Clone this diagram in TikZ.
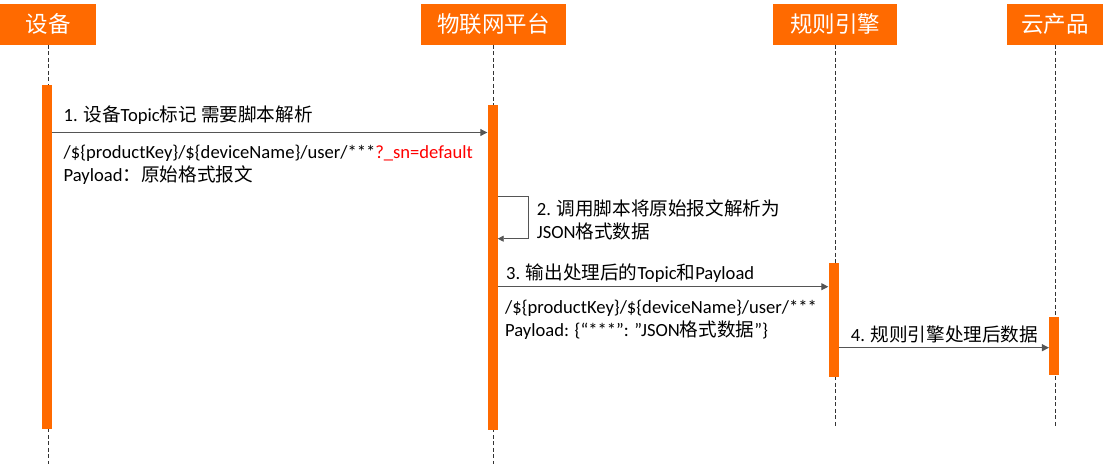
\documentclass[tikz,border=0pt]{standalone}
\usepackage{fontspec}
\setmainfont{Carlito}
\newfontfamily\cjk[Scale=1.0]{Noto Sans CJK SC}
\newcommand{\zh}[1]{{\cjk #1}}
\usetikzlibrary{arrows.meta}
\definecolor{aliorange}{RGB}{255,106,0}
\definecolor{msggray}{RGB}{85,85,85}
\definecolor{lifegray}{RGB}{51,51,51}

\begin{document}
\begin{tikzpicture}[x=1pt, y=-1pt,
        head/.style={fill=aliorange, text=white, minimum height=40.5pt, inner sep=0pt,
            font=\fontsize{22.5}{24}\selectfont},
        bar/.style={fill=aliorange, minimum width=10pt, inner sep=0pt, anchor=north},
        life/.style={draw=lifegray, line width=0.9pt, dash pattern=on 4pt off 2.5pt},
        msg/.style={draw=msggray, line width=1pt, -{Triangle[length=7pt,width=7pt]}},
        selfmsg/.style={draw=msggray, line width=0.8pt, -{Triangle[length=6pt,width=6pt]}},
        lbl/.style={anchor=west, inner sep=0pt, align=left,
            font=\fontsize{18.6}{23.3}\selectfont}
    ]
    \useasboundingbox (0,0) rectangle (1106,464);

    % participants
    \node[head, minimum width=96pt] (dev) at (48,24.3) {\zh{设备}};
    \node[head, minimum width=145pt] (iot) at (493.5,24.3) {\zh{物联网平台}};
    \node[head, minimum width=124pt] (rule) at (835,24.3) {\zh{规则引擎}};
    \node[head, minimum width=96pt] (cloud) at (1055,24.3) {\zh{云产品}};

    % lifelines
    \draw[life] (dev.south) -- (dev.south |- 0,464);
    \draw[life] (iot.south) -- (iot.south |- 0,464);
    \draw[life] (rule.south) -- (rule.south |- 0,426);
    \draw[life] (cloud.south) -- (cloud.south |- 0,426);

    % activations
    \node[bar, minimum height=344pt] (devbar) at (47,85) {};
    \node[bar, minimum height=325pt] (iotbar) at (492.5,105) {};
    \node[bar, minimum height=114pt] (rulebar) at (833.5,263) {};
    \node[bar, minimum width=9.7pt, minimum height=58pt] (cloudbar) at (1054,317) {};

    % 1
    \draw[msg] (devbar.east |- 0,132.5) -- (iotbar.west |- 0,132.5);
    \node[lbl] (m1) at (63.5,115) {1. \zh{设备}Topic\zh{标记 需要脚本解析}};
    \node[lbl] (m1txt) at (63.5,164.5) {/\$\{productKey\}/\$\{deviceName\}/user/***\textcolor{red}{?\_sn=default}\\
        Payload\zh{：原始格式报文}};

    % 2
    \draw[selfmsg] (iotbar.east |- 0,196) -| (528.7,238.7) -- (iotbar.east |- 0,238.7);
    \node[lbl] (m2) at (536.7,220) {2. \zh{调用脚本将原始报文解析为}\\
        JSON\zh{格式数据}};

    % 3
    \draw[msg] (iotbar.east |- 0,286.7) -- (rulebar.west |- 0,286.7);
    \node[lbl] (m3) at (506,272.7) {3. \zh{输出处理后的}Topic\zh{和}Payload};
    \node[lbl] (m3txt) at (505,320) {/\$\{productKey\}/\$\{deviceName\}/user/***\\
        Payload: \{“***”: ”JSON\zh{格式数据}”\}};

    % 4
    \draw[msg] (rulebar.east |- 0,347.7) -- (cloudbar.west |- 0,347.7);
    \node[lbl] (m4) at (850.7,334.3) {4. \zh{规则引擎处理后数据}};
\end{tikzpicture}
\end{document}
